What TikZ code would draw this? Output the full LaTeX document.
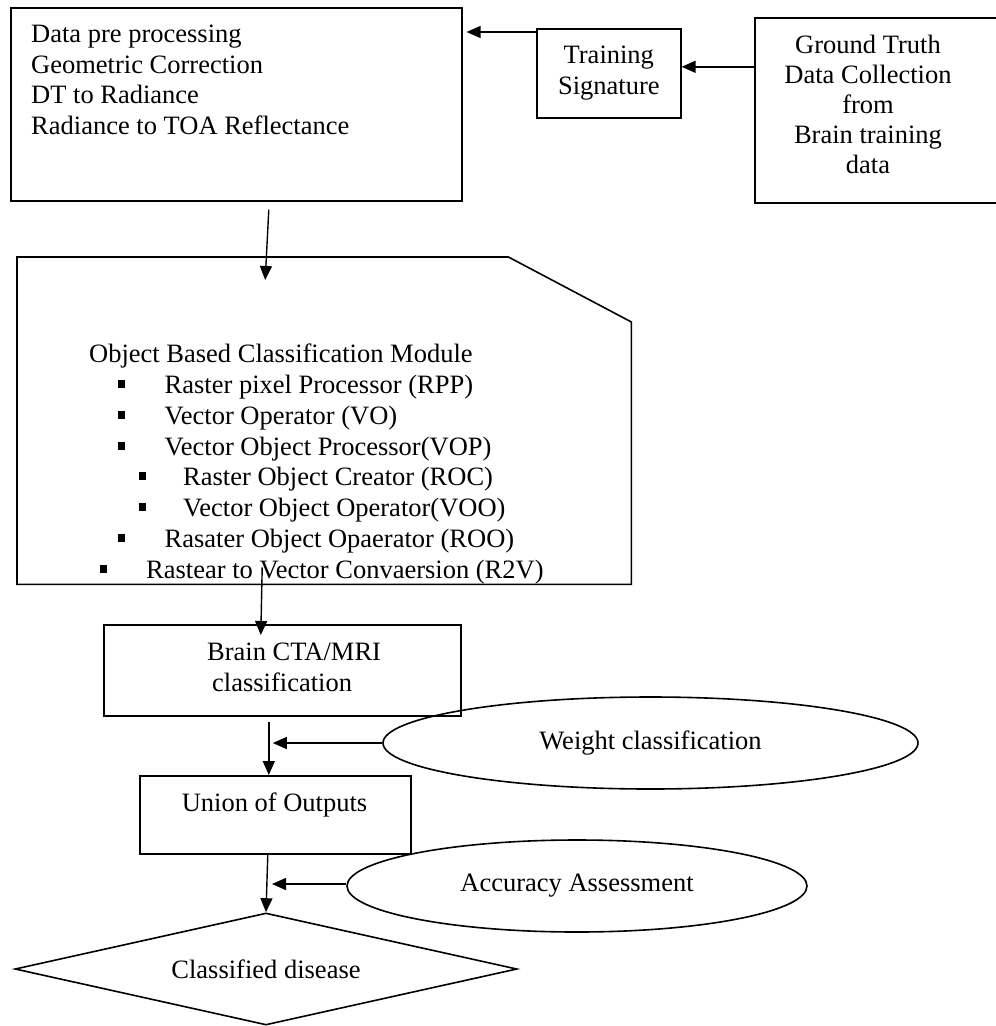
\documentclass[tikz,border=0pt]{standalone}
\usepackage{fontspec}
\setmainfont{Liberation Serif}
\usetikzlibrary{shapes.geometric,arrows.meta}
\begin{document}
\begin{tikzpicture}[x=1pt,y=-1pt,
  box/.style={draw,line width=1.6pt,inner sep=0pt,anchor=north west},
  txt/.style={inner sep=0pt,font=\fontsize{26.5}{30.7}\selectfont},
  arr/.style={line width=1.4pt,-{Triangle[length=14pt,width=12pt]}},
  bul/.style={fill=black,inner sep=0pt,minimum width=7pt,minimum height=8pt},
  oval/.style={draw,ellipse,line width=1.6pt,inner sep=0pt,font=\fontsize{26.5}{30.7}\selectfont}]
\clip (0,0) rectangle (996,1026);
\useasboundingbox (0,0) rectangle (996,1026);
% top row
\node[box,minimum width=451pt,minimum height=193pt] (box1) at (10,7) {};
\node[txt,align=left,anchor=west] (box1t) at (31,80)
  {Data pre processing\\Geometric Correction\\DT to Radiance\\Radiance to TOA Reflectance};
\node[box,minimum width=144pt,minimum height=89pt,align=center,
  font=\fontsize{26.5}{31}\selectfont] (ts) at (536,28) {Training\\Signature};
\node[box,minimum width=250pt,minimum height=185pt] (gt) at (754,17) {};
\node[txt,align=center,font=\fontsize{26.5}{30}\selectfont] (gtt) at (868,104)
  {Ground Truth\\Data Collection\\from\\Brain training\\data};
% module
\node[minimum width=614pt,minimum height=327pt,inner sep=0pt,anchor=north west] (mod) at (17,257) {};
\draw[line width=1.6pt] (mod.north west) -- ([xshift=-123pt]mod.north east)
  -- ([yshift=-65pt]mod.north east) -- (mod.south east) -- (mod.south west) -- cycle;
\node[txt,anchor=base west] (mtitle) at (89,362) {Object Based Classification Module};
\node[bul] (b1) at (121,384) {};
\node[txt,anchor=base west] (i1) at (164.5,393) {Raster pixel Processor (RPP)};
\node[bul] (b2) at (121,415) {};
\node[txt,anchor=base west] (i2) at (164.5,424) {Vector Operator (VO)};
\node[bul] (b3) at (121,446) {};
\node[txt,anchor=base west] (i3) at (164.5,455) {Vector Object Processor(VOP)};
\node[bul] (b4) at (142.5,476) {};
\node[txt,anchor=base west] (i4) at (183,485) {Raster Object Creator (ROC)};
\node[bul] (b5) at (142.5,507) {};
\node[txt,anchor=base west] (i5) at (183,516) {Vector Object Operator(VOO)};
\node[bul] (b6) at (121,538) {};
\node[txt,anchor=base west] (i6) at (164.5,547) {Rasater Object Opaerator (ROO)};
\node[bul] (b7) at (103.5,569) {};
\node[txt,anchor=base west] (i7) at (146,578) {Rastear to Vector Convaersion (R2V)};
% lower boxes
\node[box,minimum width=357pt,minimum height=91pt] (brain) at (103,624) {};
\node[txt,align=left,anchor=west] (braint) at (207,667) {Brain CTA/MRI\\\hspace*{5pt}classification};
\node[box,minimum width=271pt,minimum height=78pt] (union) at (139,775) {};
\node[txt] (uniont) at (274.5,805) {Union of Outputs};
\node[oval,minimum width=535pt,minimum height=92pt] (wc) at (650.5,743) {Weight classification};
\node[oval,minimum width=460pt,minimum height=92pt] (acc) at (577,886) {Accuracy Assessment};
\node[draw,diamond,aspect=4.5,line width=1.6pt,inner sep=0pt,minimum width=502pt,minimum height=112pt,
  font=\fontsize{26.5}{30.7}\selectfont] (dia) at (266,969) {Classified disease};
% connectors
\coordinate (a1) at ([yshift=-4pt]ts.north west);
\draw[arr] (a1) -- ([xshift=4pt]a1 -| box1.east);
\coordinate (a2) at ([yshift=43.5pt]gt.west);
\draw[arr] (a2) -- (a2 -| ts.east);
\draw[arr] ([xshift=32.5pt,yshift=-8pt]box1.south) -- ([xshift=-59pt,yshift=-23pt]mod.north);
\draw[arr] ([xshift=-62pt,yshift=17pt]mod.south) -- ([xshift=-21.5pt,yshift=-11pt]brain.north);
\coordinate (bu) at ([xshift=-6.5pt]union.north);
\draw[arr] ([xshift=-13.5pt,yshift=-5pt]brain.south) -- (bu);
\draw[arr] (wc.west) -- ([xshift=4pt]wc.west -| bu);
\draw[arr] ([xshift=-7.5pt]union.south) -- (dia.north);
\draw[arr] ([yshift=2pt]acc.west) -- ([xshift=6pt,yshift=2pt]acc.west -| dia.north);
\end{tikzpicture}
\end{document}
